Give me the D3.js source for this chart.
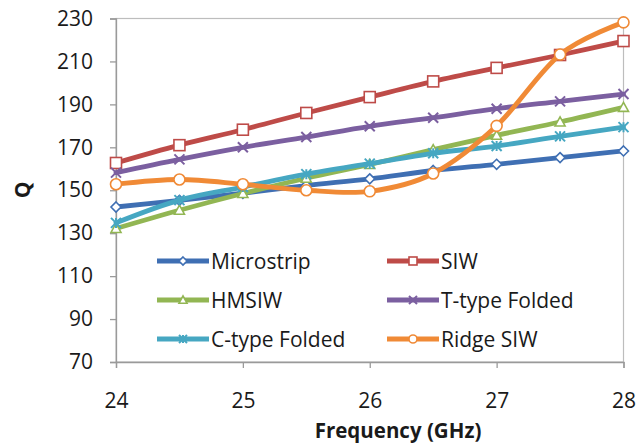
<!DOCTYPE html>
<html>
<head>
<meta charset="utf-8">
<script src="https://cdn.jsdelivr.net/npm/d3@7/dist/d3.min.js"></script>
<style>
  html, body { margin: 0; padding: 0; background: #fff; }
  svg { display: block; }
  text { font-family: "Open Sans", "Noto Sans", sans-serif; fill: #1a1a1a; }
</style>
</head>
<body>
<svg id="chart" width="636" height="445"></svg>
<script>
// Frequency points (GHz)
const frequency = [24, 24.5, 25, 25.5, 26, 26.5, 27, 27.5, 28];

// Quality factor for each structure
const microstrip   = [142.2, 145.3, 148.6, 152.2, 155.3, 159.2, 162.1, 165.2, 168.3];
const siw          = [162.7, 171.0, 178.2, 186.0, 193.4, 200.7, 207.0, 213.0, 219.5];
const hmsiw        = [132.2, 140.7, 148.5, 155.6, 162.0, 168.9, 175.6, 181.8, 188.6];
const tTypeFolded  = [158.2, 164.4, 170.0, 174.8, 179.8, 183.8, 188.0, 191.4, 194.8];
const cTypeFolded  = [134.8, 145.4, 151.5, 157.5, 162.4, 167.2, 170.6, 175.1, 179.4];
const ridgeSiw     = [152.8, 155.0, 152.8, 150.0, 149.5, 157.8, 180.0, 213.2, 228.2];

const xTicks = [24, 25, 26, 27, 28];
const yTicks = [70, 90, 110, 130, 150, 170, 190, 210, 230];

const seriesNames = ["Microstrip", "SIW", "HMSIW", "T-type Folded", "C-type Folded", "Ridge SIW"];
const seriesValues = [microstrip, siw, hmsiw, tTypeFolded, cTypeFolded, ridgeSiw];
const seriesColors = ["#3F6FB3", "#BE4B48", "#92B653", "#7B5FA0", "#46A7C2", "#F08A36"];
const seriesMarkers = ["diamond", "square", "triangle", "cross", "star", "circle"];

const svg = d3.select("#chart");
const plot = { left: 116, right: 623.5, top: 18.5, bottom: 362 };

const x = d3.scaleLinear().domain([24, 28]).range([plot.left, plot.right]);
const y = d3.scaleLinear().domain([70, 230]).range([plot.bottom, plot.top]);

const axisColor = "#9a9a9a";
const tickFont = '"Open Sans", sans-serif';

// plot frame
svg.append("rect")
  .attr("x", plot.left).attr("y", plot.top)
  .attr("width", plot.right - plot.left).attr("height", plot.bottom - plot.top)
  .attr("fill", "none").attr("stroke", "#bdbdbd").attr("stroke-width", 1.2);

// y axis
const yAxis = svg.append("g")
  .attr("transform", `translate(${plot.left},0)`)
  .call(d3.axisLeft(y).tickValues(yTicks).tickSize(6).tickPadding(17));
yAxis.select(".domain").attr("stroke", axisColor).attr("stroke-width", 1.3);
yAxis.selectAll(".tick line").attr("stroke", axisColor).attr("stroke-width", 1.3);
yAxis.selectAll(".tick text").attr("font-size", 21).attr("fill", "#1a1a1a")
  .style("font-family", tickFont);

// x axis
const xAxis = svg.append("g")
  .attr("transform", `translate(0,${plot.bottom})`)
  .call(d3.axisBottom(x).tickValues(xTicks).tickFormat(d3.format("d")).tickSize(6).tickPadding(25));
xAxis.select(".domain").attr("stroke", axisColor).attr("stroke-width", 1.3);
xAxis.selectAll(".tick line").attr("stroke", axisColor).attr("stroke-width", 1.3);
xAxis.selectAll(".tick text").attr("font-size", 21).attr("fill", "#1a1a1a")
  .style("font-family", tickFont);

// axis titles
svg.append("text")
  .attr("x", 398).attr("y", 438)
  .attr("text-anchor", "middle")
  .attr("font-size", 20.5).attr("font-weight", "bold")
  .text("Frequency (GHz)");

svg.append("text")
  .attr("transform", "translate(30,190) rotate(-90)")
  .attr("text-anchor", "middle")
  .attr("font-size", 21).attr("font-weight", "bold")
  .text("Q");

// marker drawing
function drawMarker(g, type, cx, cy, color, s) {
  const sw = 1.6;
  if (type === "diamond") {
    g.append("path")
      .attr("d", `M${cx},${cy - s}L${cx + s},${cy}L${cx},${cy + s}L${cx - s},${cy}Z`)
      .attr("fill", "#fff").attr("stroke", color).attr("stroke-width", sw);
  } else if (type === "square") {
    g.append("rect")
      .attr("x", cx - s).attr("y", cy - s).attr("width", 2 * s).attr("height", 2 * s)
      .attr("fill", "#fff").attr("stroke", color).attr("stroke-width", sw);
  } else if (type === "triangle") {
    g.append("path")
      .attr("d", `M${cx},${cy - s}L${cx + s},${cy + s * 0.8}L${cx - s},${cy + s * 0.8}Z`)
      .attr("fill", "#fff").attr("stroke", color).attr("stroke-width", sw);
  } else if (type === "cross") {
    g.append("path")
      .attr("d", `M${cx - s},${cy - s}L${cx + s},${cy + s}M${cx - s},${cy + s}L${cx + s},${cy - s}`)
      .attr("stroke", color).attr("stroke-width", 2).attr("fill", "none");
  } else if (type === "star") {
    g.append("path")
      .attr("d", `M${cx - s},${cy - s}L${cx + s},${cy + s}M${cx - s},${cy + s}L${cx + s},${cy - s}M${cx},${cy - s}L${cx},${cy + s}`)
      .attr("stroke", color).attr("stroke-width", 2).attr("fill", "none");
  } else if (type === "circle") {
    g.append("circle")
      .attr("cx", cx).attr("cy", cy).attr("r", s)
      .attr("fill", "#fff").attr("stroke", color).attr("stroke-width", sw);
  }
}

const markerSize = { diamond: 5, square: 5.5, triangle: 5, cross: 5, star: 5, circle: 5.5 };

const line = d3.line()
  .x((d, i) => x(frequency[i]))
  .y(d => y(d))
  .curve(d3.curveCardinal.tension(0));

// series
seriesValues.forEach((vals, k) => {
  const g = svg.append("g");
  g.append("path")
    .datum(vals)
    .attr("d", line)
    .attr("fill", "none")
    .attr("stroke", seriesColors[k])
    .attr("stroke-width", 4.8)
    .attr("stroke-linejoin", "round")
    .attr("stroke-linecap", "round");
  vals.forEach((v, i) => drawMarker(g, seriesMarkers[k], x(frequency[i]), y(v), seriesColors[k], markerSize[seriesMarkers[k]]));
});

// legend, two columns
const legendCols = [157, 387];
const legendRows = [261, 300, 339];
seriesNames.forEach((name, k) => {
  const col = k % 2, row = Math.floor(k / 2);
  const lx = legendCols[col], ly = legendRows[row];
  const g = svg.append("g");
  g.append("line")
    .attr("x1", lx).attr("x2", lx + 52).attr("y1", ly).attr("y2", ly)
    .attr("stroke", seriesColors[k]).attr("stroke-width", 4.8);
  drawMarker(g, seriesMarkers[k], lx + 26, ly, seriesColors[k], 4);
  g.append("text")
    .attr("x", lx + 54).attr("y", ly)
    .attr("dy", "0.36em")
    .attr("font-size", 21)
    .text(name);
});
</script>
</body>
</html>
